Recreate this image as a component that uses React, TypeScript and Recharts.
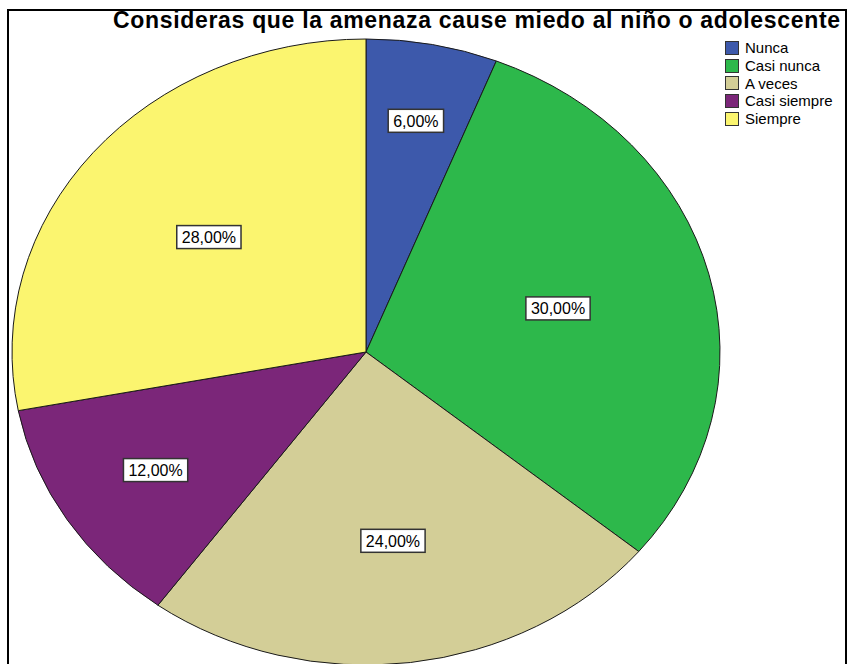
import { PieChart, Pie, Cell, Legend } from 'recharts';

const categories = ['Nunca', 'Casi nunca', 'A veces', 'Casi siempre', 'Siempre'];
const percentages = [6, 30, 24, 12, 28];
const colors = ['#3d59ab', '#2db84b', '#d3ce97', '#7b2679', '#fbf56f'];
const title = 'Consideras que la amenaza cause miedo al niño o adolescente';

// the original pie is stretched horizontally (ellipse)
const RX_RATIO = 354 / 313;
const FONT = '"Liberation Sans", Arial, sans-serif';

const data = categories.map((name, i) => ({ name, value: percentages[i] }));

function EllipseSector(props: any) {
  const { cx, cy, outerRadius, startAngle, endAngle, fill } = props;
  const rx = outerRadius * RX_RATIO;
  const ry = outerRadius;
  const rad = Math.PI / 180;
  const pt = (a: number) => [cx + rx * Math.cos(a * rad), cy - ry * Math.sin(a * rad)];
  const [x1, y1] = pt(startAngle);
  const [x2, y2] = pt(endAngle);
  const large = Math.abs(endAngle - startAngle) > 180 ? 1 : 0;
  const sweep = startAngle > endAngle ? 1 : 0;
  return (
    <path
      d={`M${cx},${cy}L${x1},${y1}A${rx},${ry} 0 ${large} ${sweep} ${x2},${y2}Z`}
      fill={fill}
      stroke="#1a1a1a"
      strokeWidth={1}
    />
  );
}

function textWidth(s: string, size: number) {
  let w = 0;
  for (const ch of s) {
    if (ch === ',') w += 0.278;
    else if (ch === '%') w += 0.889;
    else w += 0.556;
  }
  return w * size;
}

function renderLabel(props: any) {
  const { cx, cy, midAngle, outerRadius, percent, value } = props;
  // smaller slices get their label pushed further out
  const f = 0.8 * (1 - percent);
  const rad = Math.PI / 180;
  const x = cx + f * outerRadius * RX_RATIO * Math.cos(midAngle * rad);
  const y = cy - f * outerRadius * Math.sin(midAngle * rad);
  const txt = `${Number(value).toFixed(2).replace('.', ',')}%`;
  const w = textWidth(txt, 16) + 10;
  const h = 23;
  return (
    <g key={`lbl-${props.index}`}>
      <rect x={x - w / 2} y={y - h / 2} width={w} height={h} fill="#fff" stroke="#333" strokeWidth={1.5} />
      <text x={x} y={y + 6} textAnchor="middle" fontSize={16} fontFamily={FONT} fill="#000">
        {txt}
      </text>
    </g>
  );
}

function LegendBox() {
  return (
    <div style={{ fontFamily: FONT, fontSize: 15, color: '#000' }}>
      {categories.map((c, i) => (
        <div key={c} style={{ display: 'flex', alignItems: 'center', height: 17.7 }}>
          <span
            style={{
              width: 12,
              height: 12,
              background: colors[i],
              border: '1px solid #333',
              marginRight: 6,
              display: 'inline-block',
            }}
          />
          <span style={{ lineHeight: '17px' }}>{c}</span>
        </div>
      ))}
    </div>
  );
}

export default function App() {
  return (
    <div style={{ position: 'absolute', left: 0, top: 0, width: 851, height: 664, overflow: 'hidden', background: '#fff' }}>
      <PieChart width={851} height={664} margin={{ top: 0, right: 0, bottom: 0, left: 0 }}>
        <Pie
          data={data}
          dataKey="value"
          nameKey="name"
          cx={366}
          cy={352}
          outerRadius={313}
          startAngle={90}
          endAngle={-270}
          label={renderLabel}
          labelLine={false}
          shape={EllipseSector}
          activeShape={EllipseSector}
          inactiveShape={EllipseSector}
          isAnimationActive={false}
        >
          {data.map((d, i) => (
            <Cell key={d.name} fill={colors[i]} />
          ))}
        </Pie>
        <Legend
          layout="vertical"
          verticalAlign="top"
          align="right"
          content={() => <LegendBox />}
          wrapperStyle={{ left: 725, top: 39, width: 120, right: 'auto' }}
        />
      </PieChart>
      <div
        style={{
          position: 'absolute',
          left: 7,
          top: 9,
          width: 840,
          height: 700,
          boxSizing: 'border-box',
          borderTop: '2px solid #000',
          borderLeft: '2px solid #000',
          borderRight: '2px solid #000',
          pointerEvents: 'none',
        }}
      />
      <svg width={851} height={40} style={{ position: 'absolute', left: 0, top: 0 }}>
        <text x={113} y={28} fontSize={23} fontWeight="bold" fontFamily={FONT} letterSpacing={0.68} fill="#000">
          {title}
        </text>
      </svg>
    </div>
  );
}
